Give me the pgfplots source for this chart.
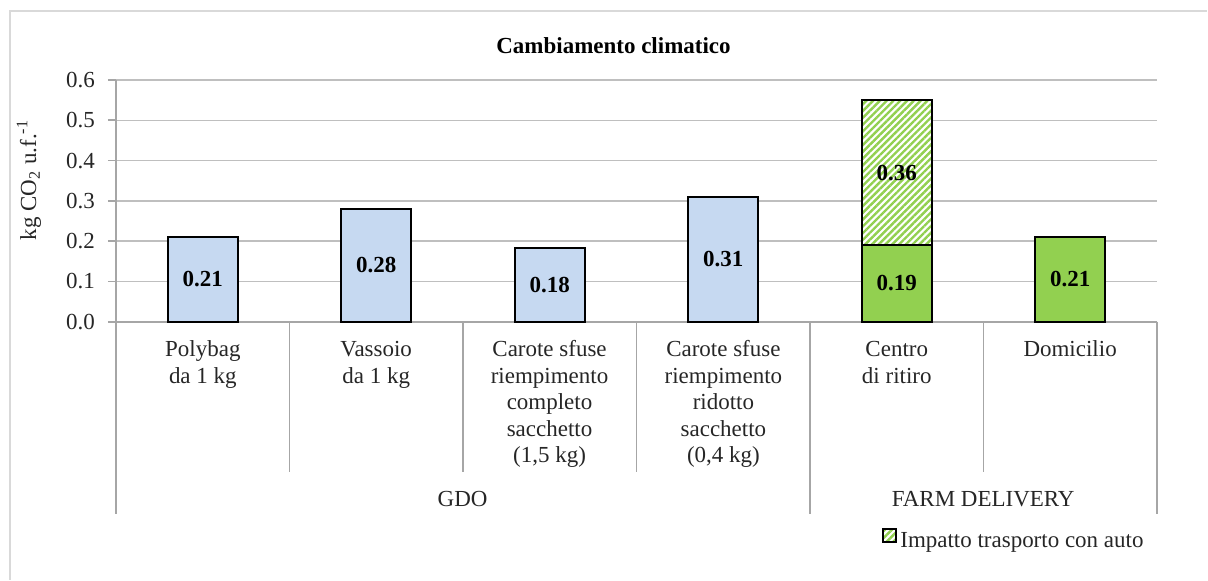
\documentclass[border=0pt]{standalone}
\usepackage{fontspec}
\setmainfont{Liberation Serif}
\usepackage{pgfplots}
\pgfplotsset{compat=1.18}
\usetikzlibrary{patterns.meta}
\definecolor{barblue}{HTML}{C6D9F1}
\definecolor{bargreen}{HTML}{92D050}
\definecolor{gridgray}{HTML}{BFBFBF}
\definecolor{axisgray}{HTML}{A6A6A6}
\definecolor{bordergray}{HTML}{D9D9D9}
\definecolor{textgray}{HTML}{262626}
\begin{document}
\begin{tikzpicture}[font=\fontsize{11.5}{13.3}\selectfont]
\begin{axis}[
  at={(0,0)}, anchor=south west,
  scale only axis, width=521pt, height=121pt,
  xmin=-0.5, xmax=5.5, ymin=0, ymax=0.6,
  ytick={0,0.1,0.2,0.3,0.4,0.5,0.6},
  /pgf/number format/fixed,
  /pgf/number format/fixed zerofill,
  /pgf/number format/precision=1,
  /pgf/number format/assume math mode=true,
  yticklabel style={text=textgray, xshift=-3pt},
  xtick=\empty,
  axis x line*=bottom, axis y line*=left,
  axis line style={-, draw=axisgray, line width=0.85pt},
  every outer x axis line/.append style={-},
  every outer y axis line/.append style={-},
  ymajorgrids, grid style={draw=gridgray, line width=0.7pt},
  major tick length=4pt, tick align=outside,
  tick style={draw=axisgray, line width=0.85pt},
  clip=false,
  legend style={at={(axis description cs:0.736,-0.909)}, anchor=west, draw=none, fill=none,
    inner sep=0pt, outer sep=0pt, font=\fontsize{11.5}{13.3}\selectfont\color{textgray}},
  legend image code/.code={\draw[#1, line width=0.8pt] (0pt,0pt) rectangle (6.3pt,6.3pt);},
]
\addplot[ybar, bar width=35pt, bar shift=0pt, draw=black, line width=1pt, fill=barblue, forget plot]
  coordinates {(0,0.21) (1,0.28) (2,0.184) (3,0.31)};
\addplot[ybar, bar width=35pt, bar shift=0pt, draw=black, line width=1pt,
  preaction={fill=white},
  pattern={Lines[angle=45,distance=2.4pt,line width=1.2pt]}, pattern color=bargreen]
  coordinates {(4,0.55)};
\addlegendentry{Impatto trasporto con auto}
\addplot[ybar, bar width=35pt, bar shift=0pt, draw=black, line width=1pt, fill=bargreen, forget plot]
  coordinates {(4,0.19) (5,0.21)};
\node[font=\fontsize{11.5}{13.3}\selectfont\bfseries] at (axis cs:0,0.105) {0.21};
\node[font=\fontsize{11.5}{13.3}\selectfont\bfseries] at (axis cs:1,0.14) {0.28};
\node[font=\fontsize{11.5}{13.3}\selectfont\bfseries] at (axis cs:2,0.092) {0.18};
\node[font=\fontsize{11.5}{13.3}\selectfont\bfseries] at (axis cs:3,0.155) {0.31};
\node[font=\fontsize{11.5}{13.3}\selectfont\bfseries] at (axis cs:4,0.37) {0.36};
\node[font=\fontsize{11.5}{13.3}\selectfont\bfseries] at (axis cs:4,0.095) {0.19};
\node[font=\fontsize{11.5}{13.3}\selectfont\bfseries] at (axis cs:5,0.105) {0.21};
\end{axis}
\begin{scope}[shift={(-58pt,161pt)}, x=0.5pt, y=-0.5pt]
  \path (0,0) rectangle (1208,580);
  \draw[bordergray, line width=1pt] (10.5,580) -- (10.5,11) -- (1208,11);
  % separators
  \foreach \xx in {289.7,463.3,637,984.3}
    \draw[axisgray, line width=0.85pt] (\xx,322) -- (\xx,472);
  \foreach \xx in {116,810.7,1158}
    \draw[axisgray, line width=0.85pt] (\xx,322) -- (\xx,514);
  % title
  \node[anchor=base, font=\fontsize{11.5}{13.3}\selectfont\bfseries] at (614,54) {Cambiamento climatico};
  % y label
  \node[rotate=90, anchor=center, text=textgray] at (29,180) {kg CO\textsubscript{2} u.f.\textsuperscript{-1}};
  % category labels
  \foreach \t [count=\i from 0] in {Polybag, da 1 kg}
    \node[anchor=base, text=textgray] at (203,357+26.5*\i) {\t};
  \foreach \t [count=\i from 0] in {Vassoio, da 1 kg}
    \node[anchor=base, text=textgray] at (376.5,357+26.5*\i) {\t};
  \foreach \t [count=\i from 0] in {Carote sfuse, riempimento, completo, sacchetto, {(1,5 kg)}}
    \node[anchor=base, text=textgray] at (550,357+26.5*\i) {\t};
  \foreach \t [count=\i from 0] in {Carote sfuse, riempimento, ridotto, sacchetto, {(0,4 kg)}}
    \node[anchor=base, text=textgray] at (724,357+26.5*\i) {\t};
  \foreach \t [count=\i from 0] in {Centro, di ritiro}
    \node[anchor=base, text=textgray] at (897.5,357+26.5*\i) {\t};
  \node[anchor=base, text=textgray] at (1071,357) {Domicilio};
  % group labels
  \node[anchor=base, text=textgray] at (463,507) {GDO};
  \node[anchor=base, text=textgray] at (984,507) {FARM DELIVERY};
\end{scope}
\end{tikzpicture}
\end{document}
